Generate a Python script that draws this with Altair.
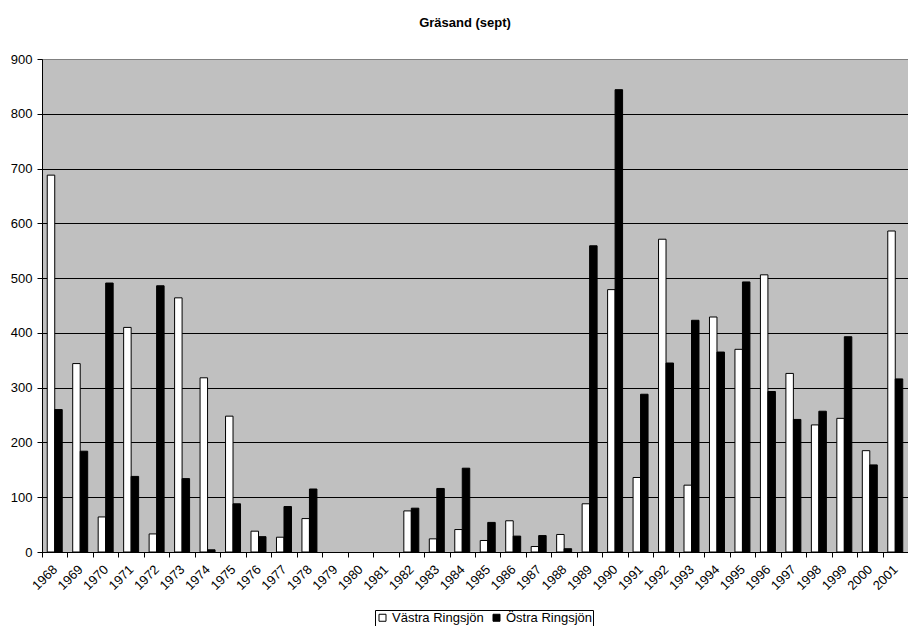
import altair as alt
import pandas as pd

years = [str(y) for y in range(1968, 2002)]
series_names = ["Västra Ringsjön", "Östra Ringsjön"]
vastra = [688, 344, 64, 410, 33, 464, 318, 248, 38, 27,
          61, None, None, None, 75, 24, 41, 21, 57, 10, 32, 88,
          479, 136, 571, 122, 429, 370, 506, 326, 232, 244, 185, 586]
ostra = [260, 184, 491, 138, 486, 134, 4, 88, 28, 83,
         115, None, None, None, 80, 116, 153, 54, 29, 30, 6, 559,
         844, 288, 345, 423, 365, 493, 293, 242, 257, 393, 159, 316]
y_ticks = list(range(0, 1000, 100))

rows = []
for i, yr in enumerate(years):
    rows.append({"year": yr, "series": series_names[0], "value": vastra[i]})
    rows.append({"year": yr, "series": series_names[1], "value": ostra[i]})
df = pd.DataFrame(rows)

FONT = "Liberation Sans"

chart = alt.Chart(df).mark_bar(stroke="black", strokeWidth=1).encode(
    x=alt.X("year:N", sort=years,
            scale=alt.Scale(paddingInner=0, paddingOuter=0),
            axis=alt.Axis(title=None, labelAngle=315, labelAlign="right",
                          labelBaseline="middle", tickBand="extent",
                          tickSize=5, labelPadding=10, labelFont=FONT,
                          labelFontSize=13, labelColor="black",
                          domainColor="black", tickColor="black",
                          grid=False, labelOverlap=False)),
    xOffset=alt.XOffset("series:N", sort=series_names,
                        scale=alt.Scale(domain=series_names, paddingOuter=0.7, paddingInner=0)),
    y=alt.Y("value:Q", scale=alt.Scale(domain=[0, 900], nice=False),
            axis=alt.Axis(title=None, values=y_ticks, tickSize=5, labelPadding=5,
                          labelFont=FONT, labelFontSize=13, labelColor="black",
                          domainColor="black", tickColor="black", grid=True,
                          gridColor={"condition": {"test": "datum.value == 900", "value": "#808080"},
                                     "value": "black"},
                          gridOpacity=1, gridWidth=1)),
    fill=alt.Fill("series:N", sort=series_names,
                  scale=alt.Scale(domain=series_names, range=["white", "black"]),
                  legend=alt.Legend(title=None, orient="none", legendX=333, legendY=551,
                                    direction="horizontal", strokeColor="black",
                                    fillColor="white", padding=1,
                                    symbolType="square", symbolSize=49,
                                    symbolStrokeColor="black", symbolStrokeWidth=1,
                                    labelFont=FONT, labelFontSize=13, labelColor="black",
                                    labelOffset=3, columnPadding=6)),
).properties(
    width=866, height=493,
    autosize=alt.AutoSizeParams(type="none"),
    padding={"left": 34, "top": 51, "right": 0, "bottom": 74},
    background="white",
    title=alt.TitleParams("Gräsand (sept)", font=FONT, fontSize=13, fontWeight="bold",
                          color="black", anchor="middle", frame="group",
                          baseline="bottom", offset=10, dx=-10),
).configure_view(fill="#c0c0c0", stroke="#808080")

chart.save("out.html", embed_options={"renderer": "svg", "actions": False})
